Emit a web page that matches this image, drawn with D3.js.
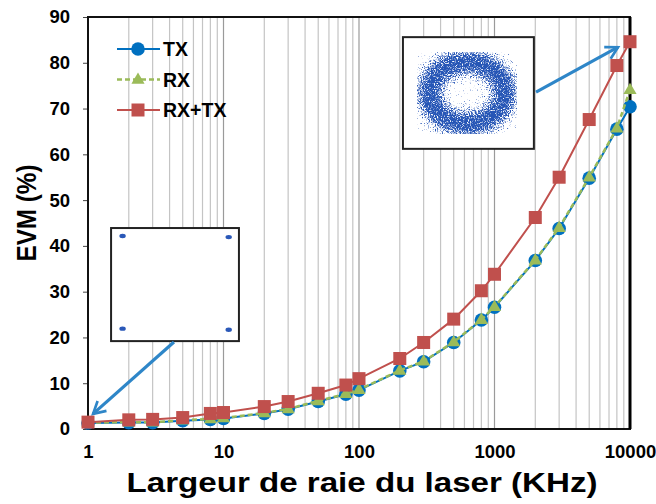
<!DOCTYPE html>
<html>
<head>
<meta charset="utf-8">
<script src="https://cdn.jsdelivr.net/npm/d3@7/dist/d3.min.js"></script>
<style>
  body { margin: 0; background: #fff; }
  text { font-family: "Liberation Sans", Arial, sans-serif; font-weight: bold; fill: #000; }
</style>
</head>
<body>
<div id="chart"></div>
<script>
// laser linewidth (kHz) and EVM (%)
var widths = [1, 2, 3, 5, 8, 10, 20, 30, 50, 80, 100, 200, 300, 500, 800, 1000, 2000, 3000, 5000, 8000, 10000];
var evmTX   = [1.3, 1.4, 1.4, 1.8, 2.1, 2.3, 3.4, 4.3, 6.0, 7.6, 8.5, 12.7, 14.7, 18.9, 23.8, 26.6, 36.8, 43.8, 54.8, 65.5, 70.4];
var evmRX   = [1.4, 1.5, 1.5, 1.9, 2.2, 2.4, 3.5, 4.4, 6.1, 7.7, 8.6, 12.8, 14.8, 19.0, 23.9, 26.7, 36.9, 44.0, 55.0, 65.7, 74.1];
var evmRXTX = [1.5, 2.0, 2.1, 2.5, 3.4, 3.6, 4.9, 6.0, 7.8, 9.6, 11.0, 15.4, 18.9, 24.0, 30.2, 33.8, 46.2, 55.0, 67.6, 79.4, 84.6];
var seriesNames = ['TX', 'RX', 'RX+TX'];
var xTicks = [1, 10, 100, 1000, 10000];
var yTicks = [0, 10, 20, 30, 40, 50, 60, 70, 80, 90];

// constellation corner points of the QPSK inset (fractions of the inset box)
var qpskPoints = [[0.09, 0.07], [0.92, 0.08], [0.09, 0.89], [0.92, 0.90]];

var w = 656, h = 504;
var margin = {top: 17, right: 26, bottom: 75, left: 88};

var svg = d3.select('#chart').append('svg')
  .attr('width', w)
  .attr('height', h);

var x = d3.scaleLog().domain([1, 10000]).range([margin.left, w - margin.right]);
var y = d3.scaleLinear().domain([0, 90]).range([h - margin.bottom, margin.top]);

var colors = {TX: '#0070c0', RX: '#9bbb59', 'RX+TX': '#c0504d'};

// vertical grid lines at every 1..9 x 10^n
var grid = [];
for (var p = 0; p < 4; p++) {
  for (var k = 1; k <= 9; k++) grid.push(k * Math.pow(10, p));
}
svg.append('g').selectAll('line')
  .data(grid.filter(function(d) { return d > 1; }))
  .enter().append('line')
  .attr('x1', function(d) { return x(d); })
  .attr('x2', function(d) { return x(d); })
  .attr('y1', y(90))
  .attr('y2', y(0))
  .attr('stroke', function(d) { return xTicks.indexOf(d) >= 0 ? '#9a9a9a' : '#c4c4c4'; })
  .attr('stroke-width', 1.2);

// axes
var yAxis = svg.append('g')
  .attr('transform', 'translate(' + margin.left + ',0)')
  .call(d3.axisLeft(y).tickValues(yTicks).tickSize(5).tickPadding(13));
yAxis.select('.domain').remove();
yAxis.selectAll('text').style('font-size', '18.5px');
yAxis.selectAll('line').attr('stroke', '#444');

var xAxis = svg.append('g')
  .attr('transform', 'translate(0,' + y(0) + ')')
  .call(d3.axisBottom(x).tickValues(xTicks).tickFormat(d3.format('d')).tickSize(0).tickPadding(16));
xAxis.select('.domain').remove();
xAxis.selectAll('text').style('font-size', '18.5px');

// plot frame
svg.append('rect')
  .attr('x', x(1)).attr('y', y(90))
  .attr('width', x(10000) - x(1)).attr('height', y(0) - y(90))
  .attr('fill', 'none').attr('stroke', '#111').attr('stroke-width', 2);
svg.append('line')
  .attr('x1', x(10000)).attr('x2', x(10000)).attr('y1', y(90)).attr('y2', y(0))
  .attr('stroke', '#000').attr('stroke-width', 3);

// insets: QPSK constellation (low linewidth) and phase-smeared ring (high linewidth)
var defs = svg.append('defs');
var flt = defs.append('filter').attr('id', 'speckle')
  .attr('x', '-15%').attr('y', '-15%').attr('width', '130%').attr('height', '130%');
flt.append('feGaussianBlur').attr('in', 'SourceAlpha').attr('stdDeviation', 7).attr('result', 'blur');
flt.append('feTurbulence').attr('type', 'fractalNoise').attr('baseFrequency', 0.85)
  .attr('numOctaves', 2).attr('seed', 4).attr('result', 'noise');
flt.append('feColorMatrix').attr('in', 'noise').attr('type', 'matrix')
  .attr('values', '0 0 0 0 0  0 0 0 0 0  0 0 0 0 0  1 0 0 0 0').attr('result', 'na');
flt.append('feComposite').attr('in', 'na').attr('in2', 'blur').attr('operator', 'arithmetic')
  .attr('k1', 0).attr('k2', 4.2).attr('k3', 2.1).attr('k4', -2.9).attr('result', 'mask');
flt.append('feFlood').attr('flood-color', '#2856b6').attr('result', 'fill');
flt.append('feComposite').attr('in', 'fill').attr('in2', 'mask').attr('operator', 'in');

function inset(x0, x1, y0, y1) {
  var bx = x(x0), by = y(y0), bw = x(x1) - x(x0), bh = y(y1) - y(y0);
  svg.append('rect').attr('x', bx).attr('y', by).attr('width', bw).attr('height', bh)
    .attr('fill', '#fff').attr('stroke', '#222').attr('stroke-width', 2);
  return {x: bx, y: by, w: bw, h: bh};
}

var box1 = inset(1.48, 13, 43.9, 19.2);
svg.append('g').selectAll('ellipse')
  .data(qpskPoints)
  .enter().append('ellipse')
  .attr('cx', function(d) { return box1.x + d[0] * box1.w; })
  .attr('cy', function(d) { return box1.y + d[1] * box1.h; })
  .attr('rx', 3.2).attr('ry', 2.2)
  .attr('fill', '#2a58b8');

var box2 = inset(211, 1953, 85.6, 61.2);
svg.append('ellipse')
  .attr('cx', box2.x + 0.49 * box2.w)
  .attr('cy', box2.y + 0.5 * box2.h)
  .attr('rx', 0.29 * box2.w).attr('ry', 0.28 * box2.h)
  .attr('fill', 'none').attr('stroke', '#000').attr('stroke-width', 24)
  .attr('filter', 'url(#speckle)');

// arrows from insets to the points
defs.append('marker').attr('id', 'arrow')
  .attr('viewBox', '0 0 12 12').attr('refX', 10).attr('refY', 6)
  .attr('markerWidth', 5).attr('markerHeight', 5).attr('orient', 'auto')
  .append('path').attr('d', 'M1,1 L10,6 L1,11').attr('fill', 'none')
  .attr('stroke', '#2e86c8').attr('stroke-width', 2);

function arrow(a, b) {
  svg.append('line')
    .attr('x1', x(a[0])).attr('y1', y(a[1]))
    .attr('x2', x(b[0])).attr('y2', y(b[1]))
    .attr('stroke', '#2e86c8').attr('stroke-width', 3.2)
    .attr('marker-end', 'url(#arrow)');
}
arrow([4.31, 19.0], [1.09, 3.3]);
arrow([2024, 73.6], [8150, 83.4]);

// series
var series = [
  {name: 'TX', values: evmTX, dash: null, width: 2},
  {name: 'RX', values: evmRX, dash: '5,3', width: 2.5},
  {name: 'RX+TX', values: evmRXTX, dash: null, width: 2}
];

var line = d3.line()
  .x(function(d) { return x(d[0]); })
  .y(function(d) { return y(d[1]); });

function drawMarker(g, name, cx, cy) {
  if (name == 'TX') {
    g.append('circle').attr('cx', cx).attr('cy', cy).attr('r', 6.8).attr('fill', colors.TX);
  } else if (name == 'RX') {
    g.append('path')
      .attr('d', d3.symbol().type(d3.symbolTriangle).size(75)())
      .attr('transform', 'translate(' + cx + ',' + (cy + 0.5) + ')')
      .attr('fill', colors.RX);
  } else {
    g.append('rect').attr('x', cx - 6.5).attr('y', cy - 6.5)
      .attr('width', 13).attr('height', 13).attr('fill', colors['RX+TX']);
  }
}

series.forEach(function(s) {
  var pts = widths.map(function(d, i) { return [d, s.values[i]]; });
  var g = svg.append('g');
  g.append('path')
    .attr('d', line(pts))
    .attr('fill', 'none')
    .attr('stroke', colors[s.name])
    .attr('stroke-width', s.width)
    .attr('stroke-dasharray', s.dash);
  pts.forEach(function(d) { drawMarker(g, s.name, x(d[0]), y(d[1])); });
});

// legend
var legend = svg.append('g');
series.forEach(function(s, i) {
  var ly = 49 + i * 30.5;
  legend.append('line')
    .attr('x1', 117).attr('x2', 160).attr('y1', ly).attr('y2', ly)
    .attr('stroke', colors[s.name]).attr('stroke-width', s.width)
    .attr('stroke-dasharray', s.dash);
  drawMarker(legend, s.name, 138, ly);
  legend.append('text')
    .attr('x', 163).attr('y', ly + 7)
    .style('font-size', '19.5px')
    .text(s.name);
});

// axis titles
svg.append('text')
  .attr('x', 362)
  .attr('y', 492)
  .attr('text-anchor', 'middle')
  .attr('textLength', 471)
  .attr('lengthAdjust', 'spacingAndGlyphs')
  .style('font-size', '27px')
  .text('Largeur de raie du laser (KHz)');

svg.append('text')
  .attr('transform', 'translate(36,' + 213 + ') rotate(-90)')
  .attr('text-anchor', 'middle')
  .attr('textLength', 97)
  .attr('lengthAdjust', 'spacingAndGlyphs')
  .style('font-size', '27px')
  .text('EVM (%)');
</script>
</body>
</html>
